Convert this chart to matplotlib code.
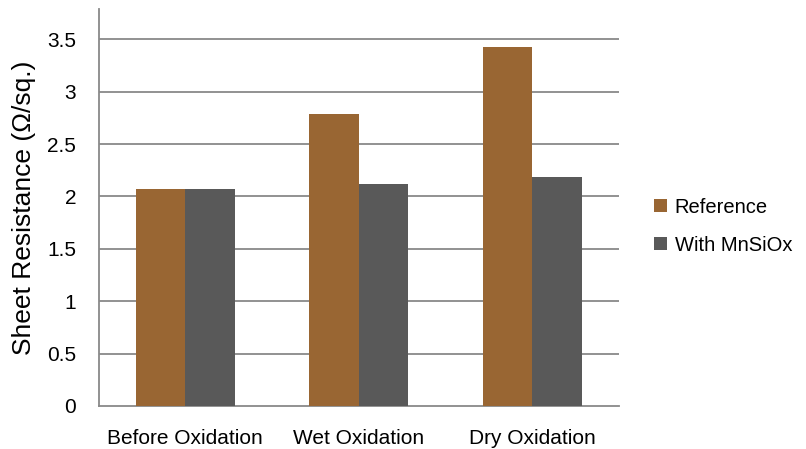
import numpy as np
import matplotlib.pyplot as plt

plt.rcParams['font.family'] = ['Liberation Sans', 'DejaVu Sans']

# data
categories = ['Before Oxidation', 'Wet Oxidation', 'Dry Oxidation']
reference = [2.07, 2.79, 3.425]
with_mnsiox = [2.07, 2.12, 2.185]
yticks = [0, 0.5, 1, 1.5, 2, 2.5, 3, 3.5]
ytick_labels = ['0', '0.5', '1', '1.5', '2', '2.5', '3', '3.5']

fig = plt.figure(figsize=(8.06, 4.49), dpi=100)
ax = fig.add_axes([0.1223, 0.0958, 0.768 - 0.1223, 0.98 - 0.0958])

x = np.arange(len(categories))
w = 0.2857
b1 = ax.bar(x - w / 2, reference, w, color='#996633', label='Reference', zorder=3)
b2 = ax.bar(x + w / 2, with_mnsiox, w, color='#595959', label='With MnSiOx', zorder=3)

ax.set_xlim(-0.5, 2.5)
ax.set_ylim(0, 3.79)
ax.set_yticks(yticks)
ax.set_yticklabels(ytick_labels)
ax.set_xticks(x)
ax.set_xticklabels(categories)
ax.tick_params(axis='both', length=0, labelsize=15, colors='black')
ax.tick_params(axis='y', pad=16)
ax.tick_params(axis='x', pad=16.5)

for yv in yticks[1:]:
    ax.axhline(yv, color='#898989', linewidth=1.3, zorder=1)

for s in ['top', 'right']:
    ax.spines[s].set_visible(False)
for s in ['left', 'bottom']:
    ax.spines[s].set_color('#898989')
    ax.spines[s].set_linewidth(1.3)

ax.set_ylabel('Sheet Resistance (\u03a9/sq.)', fontsize=19, labelpad=8)

fig.legend(handles=[b1, b2], loc='center left', bbox_to_anchor=(0.789, 0.496),
           frameon=False, fontsize=14.5, handlelength=0.62, handleheight=0.62,
           handletextpad=0.4, labelspacing=0.95)

fig.savefig('out.png', dpi=100)
